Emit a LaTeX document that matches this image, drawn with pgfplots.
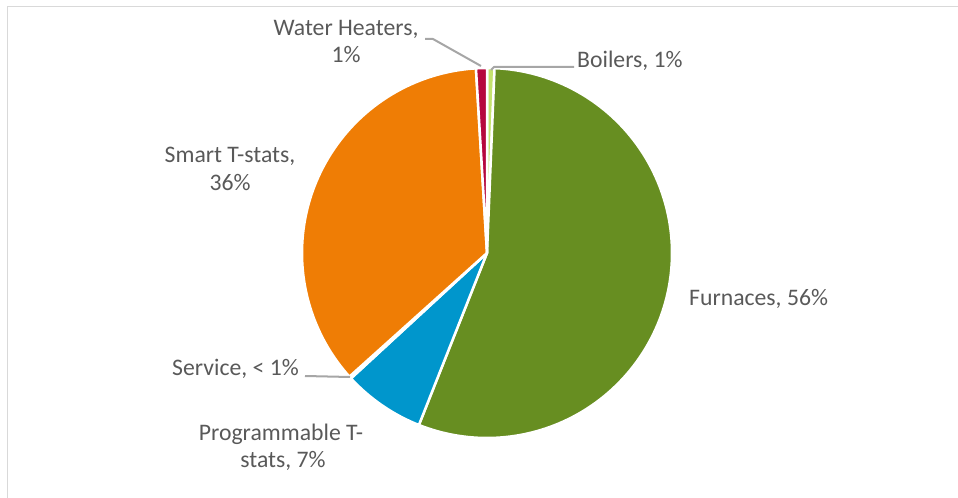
\documentclass[border=0pt]{standalone}
\usepackage{pgfplots}
\pgfplotsset{compat=1.18}
\usepackage{fontspec}
\setmainfont{Carlito}
\definecolor{cBoil}{RGB}{196,226,110}
\definecolor{cFurn}{RGB}{103,142,33}
\definecolor{cProg}{RGB}{0,150,204}
\definecolor{cServ}{RGB}{120,120,120}
\definecolor{cSmart}{RGB}{239,125,5}
\definecolor{cWater}{RGB}{181,8,62}
\definecolor{txtgray}{RGB}{89,89,89}
\definecolor{leadgray}{RGB}{166,166,166}
\definecolor{bordgray}{RGB}{217,217,217}
% data: share of total, percent (clockwise from 12 o'clock)
\def\vBoilers{0.65}
\def\vFurnaces{55.35}
\def\vProg{7.15}
\def\vService{0.2}
\def\vSmart{35.7}
\def\vWater{0.95}
\begin{document}
\begin{tikzpicture}
\begin{axis}[x=1bp,y=1bp,xmin=0,xmax=958,ymin=0,ymax=498,hide axis,clip=false,
  anchor=south west,at={(0,0)},
  every axis plot/.append style={line join=round},
  slice/.style={draw=white,line width=2.5bp,variable=\t}]
% chart border
\addplot[draw=bordgray,line width=1.5bp] coordinates {(7.5,0) (7.5,491.5) (958,491.5)};
% slices
\addplot[slice,fill=cBoil,domain=0:3.6*(\vBoilers),samples=6]
  ({487+185*sin(\t)},{245+185*cos(\t)}) -- (487,245) -- cycle;
\addplot[slice,fill=cFurn,domain=3.6*(\vBoilers):3.6*(\vBoilers+\vFurnaces),samples=140]
  ({487+185*sin(\t)},{245+185*cos(\t)}) -- (487,245) -- cycle;
\addplot[slice,fill=cProg,domain=3.6*(\vBoilers+\vFurnaces):3.6*(\vBoilers+\vFurnaces+\vProg),samples=30]
  ({487+185*sin(\t)},{245+185*cos(\t)}) -- (487,245) -- cycle;
\addplot[slice,fill=cServ,domain=3.6*(\vBoilers+\vFurnaces+\vProg):3.6*(\vBoilers+\vFurnaces+\vProg+\vService),samples=4]
  ({487+185*sin(\t)},{245+185*cos(\t)}) -- (487,245) -- cycle;
\addplot[slice,fill=cSmart,domain=3.6*(\vBoilers+\vFurnaces+\vProg+\vService):3.6*(\vBoilers+\vFurnaces+\vProg+\vService+\vSmart),samples=100]
  ({487+185*sin(\t)},{245+185*cos(\t)}) -- (487,245) -- cycle;
\addplot[slice,fill=cWater,domain=3.6*(\vBoilers+\vFurnaces+\vProg+\vService+\vSmart):360,samples=6]
  ({487+185*sin(\t)},{245+185*cos(\t)}) -- (487,245) -- cycle;
% leader lines
\addplot[draw=leadgray,line width=2bp] coordinates {(425,459) (433,459) (481,432)};
\addplot[draw=leadgray,line width=2bp] coordinates {(491,428) (494,431) (574,431)};
\addplot[draw=leadgray,line width=2bp] coordinates {(305,122) (350,121)};
% labels
\tikzset{lab/.style={inner sep=0pt,text=txtgray,font=\fontsize{23.8}{27.3}\selectfont}}
\node[lab,anchor=base] at (axis cs:346,462) {Water Heaters,};
\node[lab,anchor=base] at (axis cs:346,435) {1\%};
\node[lab,anchor=base west] at (axis cs:577,430) {Boilers, 1\%};
\node[lab,anchor=base] at (axis cs:230,336) {Smart T-stats,};
\node[lab,anchor=base] at (axis cs:230,308) {36\%};
\node[lab,anchor=base west] at (axis cs:689,193) {Furnaces, 56\%};
\node[lab,anchor=base west] at (axis cs:172,123) {Service, < 1\%};
\node[lab,anchor=base] at (axis cs:281,58) {Programmable T-};
\node[lab,anchor=base] at (axis cs:283,31) {stats, 7\%};
\end{axis}
\pgfresetboundingbox
\path[use as bounding box] (0,0) rectangle (958bp,498bp);
\end{tikzpicture}
\end{document}
